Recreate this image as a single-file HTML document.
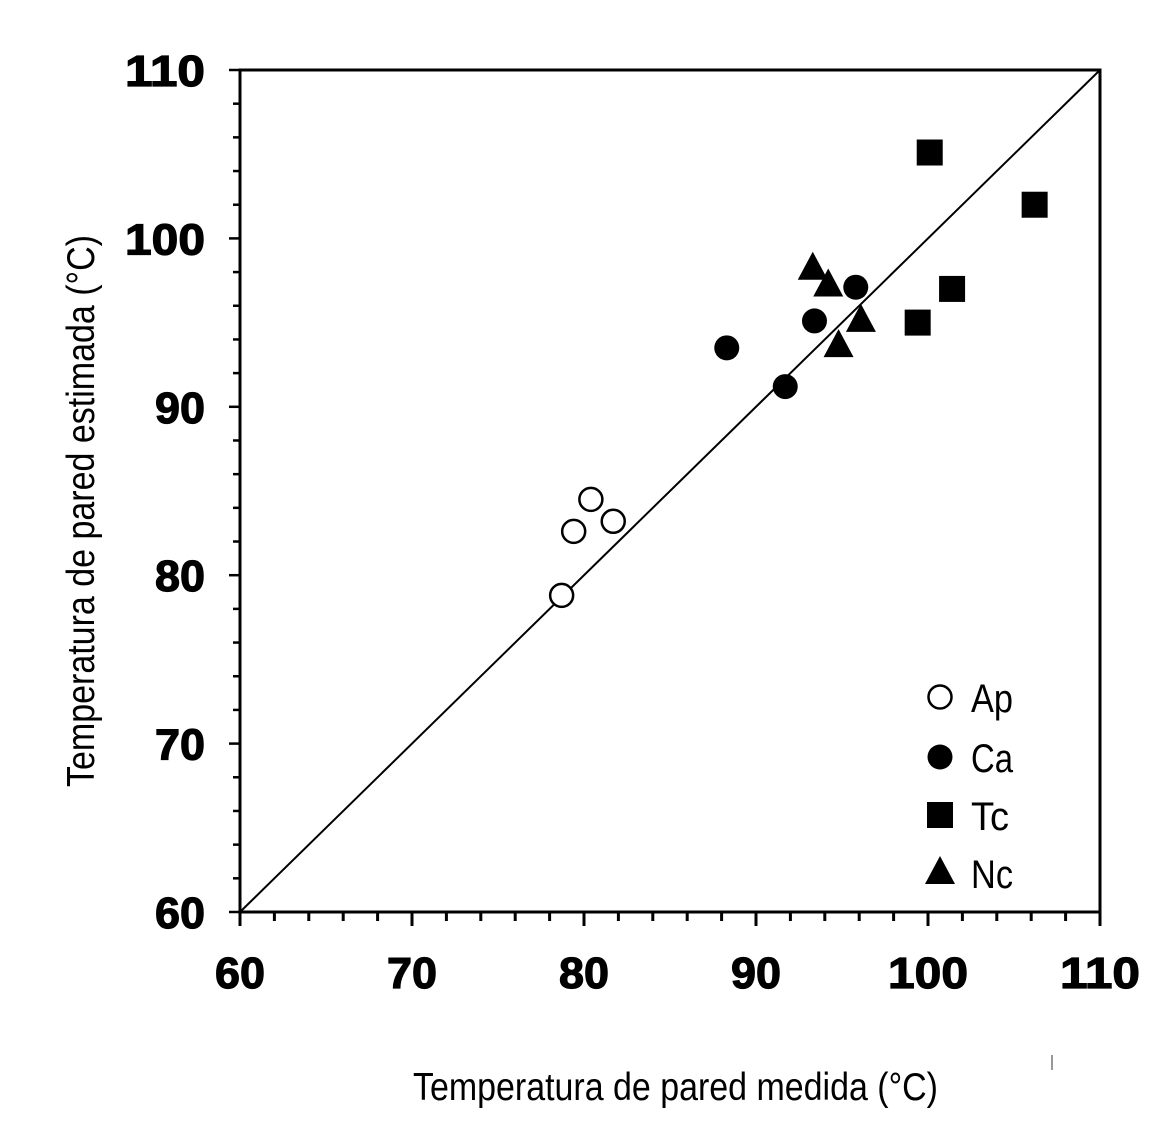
<!DOCTYPE html>
<html><head><meta charset="utf-8"><style>
html,body{margin:0;padding:0;background:#fff;}
svg{display:block;}
</style></head><body>
<svg id="chart" width="1170" height="1131" xmlns="http://www.w3.org/2000/svg"></svg>
<script>
const apX=[78.7,79.4,80.4,81.7];
const apY=[78.8,82.6,84.5,83.2];
const caX=[88.3,93.4,95.8,91.7];
const caY=[93.5,95.1,97.1,91.2];
const tcX=[100.1,106.2,101.4,99.4];
const tcY=[105.1,102.0,97.0,95.0];
const ncX=[93.3,94.2,96.1,94.8];
const ncY=[98.2,97.2,95.1,93.6];
const xTicks=[60,70,80,90,100,110];
const yTicks=[60,70,80,90,100,110];

const NS='http://www.w3.org/2000/svg';
const svg=document.getElementById('chart');
const X0=240,X1=1100,Y0=912,Y1=70,VMIN=60,VMAX=110;
function sx(v){return X0+(v-VMIN)/(VMAX-VMIN)*(X1-X0);}
function sy(v){return Y0-(v-VMIN)/(VMAX-VMIN)*(Y0-Y1);}
function mk(tag,attrs,parent){const e=document.createElementNS(NS,tag);for(const k in attrs)e.setAttribute(k,attrs[k]);(parent||svg).appendChild(e);return e;}

const frame=mk('rect',{x:X0,y:Y1,width:X1-X0,height:Y0-Y1,fill:'none',stroke:'#000','stroke-width':3});



for(let v=VMIN;v<=VMAX;v+=2){
  const major=(v%10===0);
  const tx=mk('line',{x1:sx(v),x2:sx(v),y1:Y0,y2:Y0+(major?14:9),stroke:'#000','stroke-width':3});
  
  
  const ty=mk('line',{x1:X0-(major?11:7),x2:X0,y1:sy(v),y2:sy(v),stroke:'#000','stroke-width':2.5});
  
  
}
function tl(v){return String(v).length===3?80:50;}
xTicks.forEach(v=>{
  const t=mk('text',{x:sx(v)-tl(v)/2,y:Y0+76,'font-family':'Liberation Sans, Arial, sans-serif','font-weight':'bold','font-size':44,stroke:'#000','stroke-width':1.2,textLength:tl(v),lengthAdjust:'spacingAndGlyphs'});
  t.textContent=v;
  
  
});
yTicks.forEach(v=>{
  const t=mk('text',{x:205-tl(v),y:sy(v)+16,'font-family':'Liberation Sans, Arial, sans-serif','font-weight':'bold','font-size':44,stroke:'#000','stroke-width':1.2,textLength:tl(v),lengthAdjust:'spacingAndGlyphs'});
  t.textContent=v;
  
  
});

const ref=mk('line',{x1:sx(60),y1:sy(60),x2:sx(110),y2:sy(110),stroke:'#000','stroke-width':2});



function circle(cx,cy,filled,name){
  const c=mk('circle',{cx:cx,cy:cy,r:filled?12.5:11.5,fill:filled?'#000':'#fff',stroke:'#000','stroke-width':filled?0:2.5});
  
  
}
function square(cx,cy,name){
  const r=mk('rect',{x:cx-13,y:cy-13,width:26,height:26,fill:'#000'});
  
  
}
function tri(cx,cy,name){
  const p=mk('polygon',{points:`${cx},${cy-17} ${cx-15},${cy+11} ${cx+15},${cy+11}`,fill:'#000'});
  
  
}
caX.forEach((v,i)=>circle(sx(v),sy(caY[i]),true,'point-ca'));
tcX.forEach((v,i)=>square(sx(v),sy(tcY[i]),'point-tc'));
ncX.forEach((v,i)=>tri(sx(v),sy(ncY[i]),'point-nc'));
apX.forEach((v,i)=>circle(sx(v),sy(apY[i]),false,'point-ap'));

const legend=[['Ap','open'],['Ca','fill'],['Tc','sq'],['Nc','tri']];
const ly=[697,757,815,873];
legend.forEach((l,i)=>{
  const cx=940,cy=ly[i];
  if(l[1]==='open')circle(cx,cy,false,'legend-marker-ap');
  else if(l[1]==='fill')circle(cx,cy,true,'legend-marker-ca');
  else if(l[1]==='sq')square(cx,cy,'legend-marker-tc');
  else tri(cx,cy,'legend-marker-nc');
  const t=mk('text',{x:971,y:cy+15,'font-family':'Liberation Sans Narrow, Liberation Sans, Arial, sans-serif','font-size':40,textLength:l[0]==='Tc'?38:42,lengthAdjust:'spacingAndGlyphs'});
  t.textContent=l[0];
  
  
});

const xt=mk('text',{x:413,y:1100,'font-family':'Liberation Sans Narrow, Liberation Sans, Arial, sans-serif','font-size':39,textLength:525,lengthAdjust:'spacingAndGlyphs'});
xt.textContent='Temperatura de pared medida (°C)';


const yt=mk('text',{x:0,y:0,'font-family':'Liberation Sans Narrow, Liberation Sans, Arial, sans-serif','font-size':39,textLength:552,lengthAdjust:'spacingAndGlyphs',transform:'translate(94,787) rotate(-90)'});
yt.textContent='Temperatura de pared estimada (°C)';


const mark=mk('line',{x1:1052,x2:1052,y1:1055,y2:1070,stroke:'#999','stroke-width':2});


</script>
</body></html>
